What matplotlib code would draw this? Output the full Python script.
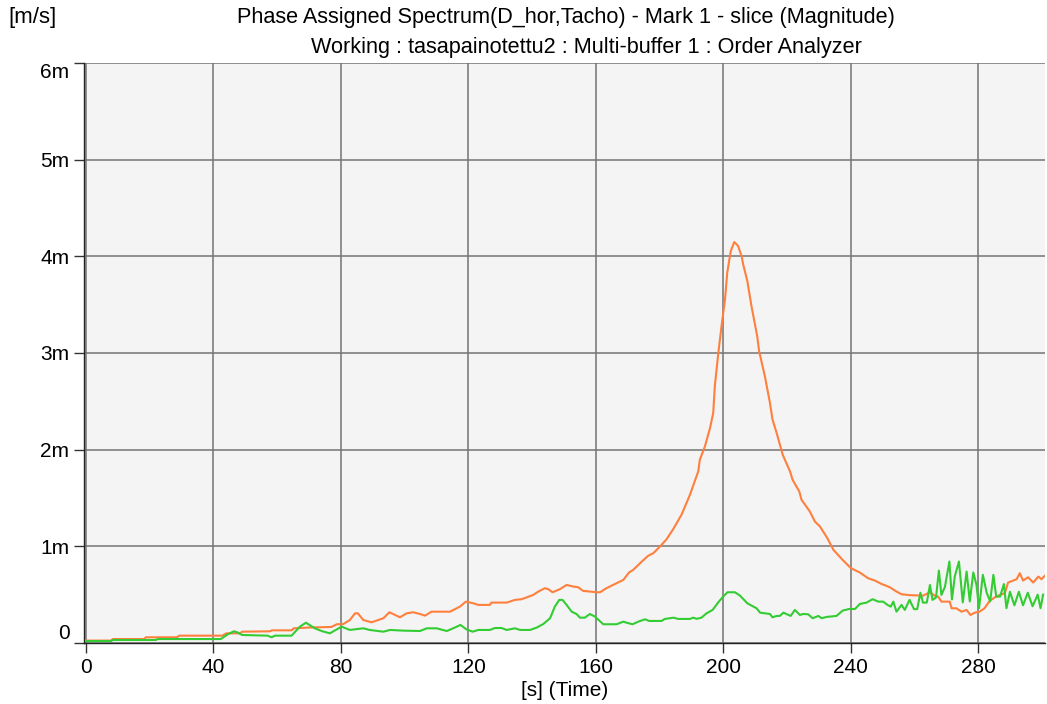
import matplotlib
matplotlib.use("Agg")
import matplotlib.pyplot as plt

plt.rcParams["font.family"] = ["Liberation Sans", "DejaVu Sans"]

# ===== data, values in m/s * 1e-3 =====
orange_t = [0, 7.8, 8.5, 18.2, 18.8, 28.6, 29.2, 42.8, 44, 48.3, 49, 57.7, 58.3, 64.5,
            65.2, 70, 77, 78.7, 80.6, 82.8, 84.4, 85.3, 87, 89.6, 93.3, 95.2, 98.5,
            100.6, 102.7, 104.8, 106.4, 108.4, 114.2, 117.3, 119.2, 121.5, 123.1, 126.7,
            127.2, 132, 134.6, 136.7, 140.3, 141.9, 144, 145, 146.4, 148.7, 150.8, 152.9,
            154.4, 156, 158.1, 160.2, 161.3, 163.3, 165.4, 168.6, 170.4, 171.7, 174.3,
            176.4, 178, 180.1, 182.2, 184.3, 186.9, 189.5, 192.1, 192.6, 194.2, 195.8,
            196.8, 197.3, 198.4, 199.4, 200.5, 201.2, 202.3, 203.4, 204.6, 205.7, 206.2,
            207.5, 208.8, 210.6, 211.2, 213, 214.6, 215.4, 216.7, 218.6, 220.9, 221.7,
            223.8, 224.5, 227.1, 228.7, 230.3, 232.6, 234.5, 237.4, 240, 242.8, 245.4,
            247.5, 249.6, 252.2, 254.3, 255.9, 258.5, 262.7, 264.8, 266.4, 267.4, 268.4,
            271, 271.6, 273.1, 274.7, 276.3, 277.5, 278.9, 280.4, 281.9, 283.6, 285.2,
            286.7, 288.3, 289.3, 292, 293, 294, 295.6, 297.2, 298.8, 299.8, 301]
orange_v = [0.025, 0.025, 0.041, 0.041, 0.059, 0.059, 0.076, 0.076, 0.10, 0.10, 0.117,
            0.121, 0.131, 0.131, 0.152, 0.16, 0.166, 0.194, 0.194, 0.238, 0.307, 0.307,
            0.238, 0.214, 0.256, 0.318, 0.266, 0.307, 0.318, 0.30, 0.283, 0.324, 0.324,
            0.376, 0.428, 0.411, 0.394, 0.394, 0.418, 0.418, 0.446, 0.453, 0.497, 0.532,
            0.567, 0.557, 0.525, 0.557, 0.601, 0.584, 0.577, 0.539, 0.532, 0.525, 0.525,
            0.567, 0.601, 0.653, 0.73, 0.756, 0.84, 0.902, 0.929, 0.998, 1.075, 1.181,
            1.33, 1.534, 1.775, 1.896, 2.034, 2.225, 2.38, 2.656, 3.0, 3.277, 3.554,
            3.831, 4.055, 4.148, 4.107, 4.003, 3.917, 3.744, 3.485, 3.174, 3.019, 2.76,
            2.484, 2.311, 2.173, 1.948, 1.775, 1.689, 1.568, 1.482, 1.361, 1.257, 1.205,
            1.085, 0.964, 0.86, 0.774, 0.729, 0.67, 0.646, 0.611, 0.577, 0.532, 0.504,
            0.495, 0.49, 0.525, 0.487, 0.48, 0.428, 0.428, 0.359, 0.359, 0.324, 0.342,
            0.29, 0.314, 0.324, 0.359, 0.438, 0.473, 0.497, 0.515, 0.625, 0.66, 0.722,
            0.646, 0.68, 0.625, 0.687, 0.66, 0.70]

green_t = [0, 7.8, 8.5, 21.9, 22.5, 42.3, 44.5, 46.4, 47.5, 49, 57, 58.2, 59.3, 64.5,
           67.1, 69, 71.8, 73.9, 76.5, 80.2, 82.8, 87, 89, 93.3, 95.4, 99.5, 104.8,
           106.9, 110, 113.2, 115.2, 117.5, 119.3, 121.3, 123.1, 126.7, 128.3, 130.4,
           132, 134.6, 136.2, 139.3, 141.4, 143.5, 145.6, 147.1, 148.5, 149.5, 150.8,
           152.4, 153.9, 155, 156.5, 158.1, 159.7, 162.3, 166.5, 168.6, 169.6, 171.5,
           173.3, 175.4, 176.7, 180.6, 181.6, 184.4, 185.8, 189.5, 190.5, 191.6, 193.1,
           194.7, 196.6, 198.4, 199.9, 201.3, 203.6, 205.2, 207.5, 210.4, 211.5, 214.6,
           215.4, 216.7, 217.7, 218.8, 221.1, 222.4, 224, 225, 226.6, 228, 229.8, 230.8,
           232.4, 235.5, 237.4, 239.5, 241.3, 242.8, 244.9, 246.8, 248.6, 250.1, 251.5,
           252.5, 253.3, 254.3, 255.9, 256.9, 258.4, 259.8, 260.8, 261.8, 262.6, 263.8,
           264.8, 265.6, 266.7, 267.6, 268.4, 269.5, 270.9, 271.7, 272.6, 273.9, 275.1,
           276.3, 277.3, 278.4, 279.4, 280.2, 281.4, 282.6, 283.7, 284.7, 285.6, 286.8,
           288.0, 288.8, 289.9, 291.3, 292.7, 294.0, 295.5, 297.0, 298.6, 299.5, 300.3]
green_v = [0.02, 0.02, 0.031, 0.031, 0.041, 0.041, 0.09, 0.121, 0.11, 0.083, 0.076,
           0.059, 0.076, 0.076, 0.169, 0.21, 0.152, 0.124, 0.10, 0.169, 0.135, 0.152,
           0.135, 0.117, 0.135, 0.128, 0.124, 0.152, 0.152, 0.124, 0.152, 0.187, 0.142,
           0.117, 0.135, 0.135, 0.155, 0.155, 0.135, 0.152, 0.135, 0.135, 0.159, 0.197,
           0.256, 0.376, 0.446, 0.446, 0.394, 0.324, 0.30, 0.262, 0.262, 0.30, 0.273,
           0.194, 0.194, 0.221, 0.21, 0.194, 0.221, 0.245, 0.228, 0.228, 0.249, 0.262,
           0.249, 0.249, 0.262, 0.25, 0.262, 0.307, 0.342, 0.421, 0.48, 0.525, 0.525,
           0.49, 0.411, 0.359, 0.314, 0.30, 0.266, 0.28, 0.28, 0.314, 0.28, 0.342, 0.29,
           0.30, 0.297, 0.256, 0.28, 0.256, 0.27, 0.28, 0.335, 0.352, 0.352, 0.404,
           0.418, 0.453, 0.428, 0.428, 0.394, 0.376, 0.428, 0.324, 0.394, 0.342, 0.446,
           0.35, 0.35, 0.52, 0.418, 0.418, 0.60, 0.446, 0.47, 0.749, 0.497, 0.58, 0.843,
           0.45, 0.69, 0.843, 0.42, 0.739, 0.43, 0.73, 0.60, 0.36, 0.705, 0.52, 0.43,
           0.705, 0.48, 0.48, 0.61, 0.36, 0.53, 0.39, 0.53, 0.39, 0.52, 0.38, 0.50, 0.36,
           0.50]

x_ticks = [0, 40, 80, 120, 160, 200, 240, 280]
y_ticks = [0, 1, 2, 3, 4, 5, 6]
y_labels = ["0", "1m", "2m", "3m", "4m", "5m", "6m"]

title1 = "Phase Assigned Spectrum(D_hor,Tacho) - Mark 1 - slice (Magnitude)"
title2 = "Working : tasapainotettu2 : Multi-buffer 1 : Order Analyzer"

# ===== plot =====
W, H = 1047, 704
fig = plt.figure(figsize=(W / 100, H / 100), dpi=100)
ax = fig.add_axes([84 / W, 1 - 643 / H, (1045 - 84) / W, (643 - 63) / H])
ax.set_facecolor("#f4f4f4")

ax.plot(orange_t, orange_v, color="#ff7f3c", lw=1.5, zorder=3)
ax.plot(green_t, green_v, color="#33cc33", lw=1.5, zorder=4)

ax.set_xlim(-0.63, 300.9)
ax.set_ylim(0, 6)
ax.set_xticks(x_ticks)
ax.set_yticks(y_ticks)
ax.set_yticklabels(y_labels)
ax.grid(True, color="#737373", lw=1.1)
ax.set_axisbelow(True)

for side in ["top", "right"]:
    ax.spines[side].set_visible(False)
for side in ["left", "bottom"]:
    ax.spines[side].set_color("#222222")
    ax.spines[side].set_linewidth(1.0)

ax.tick_params(axis="both", length=7, width=1, color="#333333", labelsize=15, pad=3.5)
ylabs = ax.get_yticklabels()
ylabs[0].set_va("bottom")
ylabs[-1].set_va("top")

ax.set_xlabel("[s] (Time)", fontsize=15, labelpad=3)

fig.text(566 / W, 1 - 18 / H, title1, ha="center", va="center", fontsize=15.6)
fig.text(586 / W, 1 - 47 / H, title2, ha="center", va="center", fontsize=15.6)
fig.text(8 / W, 1 - 18 / H, "[m/s]", ha="left", va="center", fontsize=16)

fig.savefig("out.png", dpi=100)
